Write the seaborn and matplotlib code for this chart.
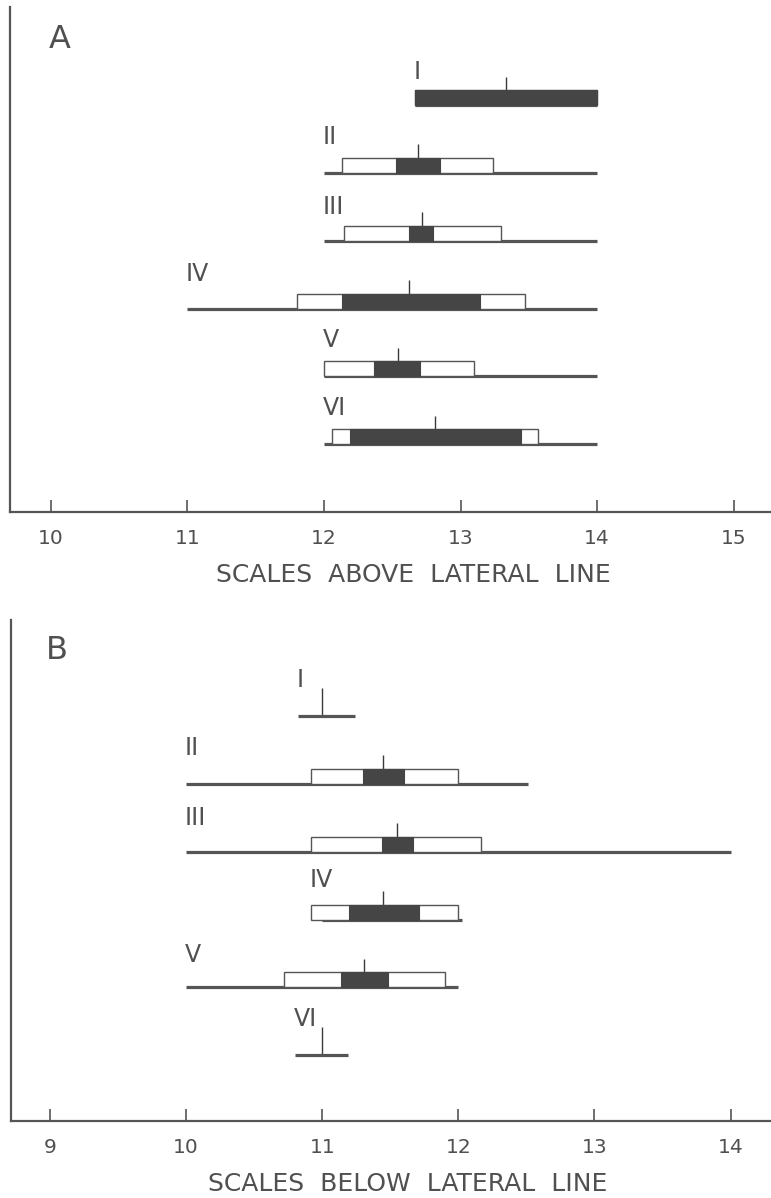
import numpy as np
import matplotlib
matplotlib.use("Agg")
import matplotlib.pyplot as plt
import seaborn as sns

# Populations
rows = ["I", "II", "III", "IV", "V", "VI"]

# A: scales above lateral line
above_range_lo = [12.67, 12.0, 12.0, 11.0, 12.0, 12.0]
above_range_hi = [14.0, 14.0, 14.0, 14.0, 14.0, 14.0]
above_mean = [13.33, 12.69, 12.72, 12.62, 12.54, 12.81]
above_sd_lo = [12.67, 12.13, 12.15, 11.80, 12.0, 12.06]
above_sd_hi = [14.0, 13.24, 13.30, 13.47, 13.10, 13.57]
above_se_lo = [12.67, 12.53, 12.62, 12.13, 12.37, 12.19]
above_se_hi = [14.0, 12.85, 12.80, 13.14, 12.70, 13.44]

# B: scales below lateral line (I and VI: too few fish for SD / SE)
nan = np.nan
below_range_lo = [10.82, 10.0, 10.0, 11.0, 10.0, 10.80]
below_range_hi = [11.24, 12.51, 14.0, 12.03, 12.0, 11.19]
below_mean = [11.0, 11.45, 11.55, 11.45, 11.31, 11.0]
below_sd_lo = [nan, 10.92, 10.92, 10.92, 10.72, nan]
below_sd_hi = [nan, 12.0, 12.17, 12.0, 11.90, nan]
below_se_lo = [nan, 11.30, 11.44, 11.20, 11.14, nan]
below_se_hi = [nan, 11.60, 11.67, 11.71, 11.48, nan]

above_ticks = [10, 11, 12, 13, 14, 15]
below_ticks = [9, 10, 11, 12, 13, 14]

sns.set_theme(style="ticks")
plt.rcParams["font.family"] = ["DejaVu Sans"]

INK = "#555555"
FILL = "#454545"
TXT = "#505050"

BOX_H = 0.22      # height of SD / SE boxes in row units
TICK_H = 0.42     # mean marker height above the range line


def hubbs(ax, rng_lo, rng_hi, mean, sd_lo, sd_hi, se_lo, se_hi, label_dy):
    y = np.arange(len(rows))
    # range lines
    ax.hlines(y, rng_lo, rng_hi, color=INK, lw=2.3, zorder=2, capstyle="butt")
    # mean markers
    ax.vlines(mean, y, y - TICK_H, color="#3a3a3a", lw=1.0, zorder=1)
    sd_lo, sd_hi = np.asarray(sd_lo), np.asarray(sd_hi)
    se_lo, se_hi = np.asarray(se_lo), np.asarray(se_hi)
    ok = ~np.isnan(sd_lo)
    # one standard deviation each side: open box
    ax.barh(y[ok] - BOX_H / 2, sd_hi[ok] - sd_lo[ok], left=sd_lo[ok], height=BOX_H,
            facecolor="white", edgecolor=INK, lw=1.0, zorder=3)
    # two standard errors each side: solid box
    ax.barh(y[ok] - BOX_H / 2, se_hi[ok] - se_lo[ok], left=se_lo[ok], height=BOX_H,
            facecolor=FILL, edgecolor=FILL, lw=0.8, zorder=4)
    starts = np.fmin(np.asarray(rng_lo), np.where(ok, sd_lo, np.inf))
    for yi, name, x0, dy in zip(y, rows, starts, label_dy):
        ax.text(x0 - 0.01, yi + dy, name, ha="left", va="center",
                fontsize=17, color=TXT)


fig = plt.figure(figsize=(7.71, 11.98), dpi=100)
W, H = 771, 1198

axA = fig.add_axes([10 / W, (H - 512) / H, 761 / W, 505 / H])
axB = fig.add_axes([11 / W, (H - 1121) / H, 760 / W, 501 / H])

hubbs(axA, above_range_lo, above_range_hi, above_mean, above_sd_lo, above_sd_hi,
      above_se_lo, above_se_hi, [-0.48, -0.53, -0.50, -0.51, -0.54, -0.53])
hubbs(axB, below_range_lo, below_range_hi, below_mean, below_sd_lo, below_sd_hi,
      below_se_lo, below_se_hi, [-0.53, -0.53, -0.50, -0.58, -0.47, -0.53])

axA.set_xlim(9.702, 15.273)
axA.set_ylim(6.0, -1.445)
axB.set_xlim(8.714, 14.297)
axB.set_ylim(5.97, -1.416)

for ax, ticks, xlab, lx, letter, pos in [
    (axA, above_ticks, "SCALES  ABOVE  LATERAL  LINE", (413 - 10) / 761, "A", (0.065, 0.935)),
    (axB, below_ticks, "SCALES  BELOW  LATERAL  LINE", (408 - 11) / 760, "B", (0.061, 0.939)),
]:
    sns.despine(ax=ax, top=True, right=True)
    ax.set_facecolor("white")
    for s in ("left", "bottom"):
        ax.spines[s].set_color(INK)
        ax.spines[s].set_linewidth(1.6)
    ax.set_yticks([])
    ax.set_xticks(ticks)
    ax.set_xticklabels([str(t) for t in ticks])
    ax.tick_params(axis="x", direction="in", length=9, width=1.2, color=INK,
                   labelsize=14.5, labelcolor=TXT, pad=12)
    ax.set_xlabel(xlab, fontsize=18, color=TXT)
    ax.xaxis.label.set_va("center")
    ax.xaxis.set_label_coords(lx, -0.125)
    ax.text(pos[0], pos[1], letter, transform=ax.transAxes, ha="center", va="center",
            fontsize=23, color=TXT)

fig.savefig("out.png", dpi=100, facecolor="white")
